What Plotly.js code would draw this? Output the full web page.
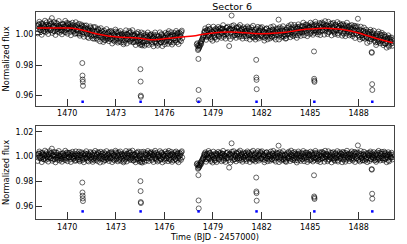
<!DOCTYPE html>
<html>
<head>
<meta charset="utf-8">
<script src="https://cdn.plot.ly/plotly-3.0.1.min.js"></script>
<style>
html,body{margin:0;padding:0;background:#fff;}
#chart{width:407px;height:244px;}
</style>
</head>
<body>
<div id="chart"></div>
<script>
// ---- DATA ----
var timeOrb1 = [
1468.15,1468.2,1468.25,1468.3,1468.35,1468.4,1468.45,1468.5,1468.55,1468.6,
1468.65,1468.7,1468.75,1468.8,1468.85,1468.9,1468.95,1469,1469.05,1469.1,
1469.15,1469.2,1469.25,1469.3,1469.35,1469.4,1469.45,1469.5,1469.55,1469.6,
1469.65,1469.7,1469.75,1469.8,1469.85,1469.9,1469.95,1470,1470.05,1470.1,
1470.15,1470.2,1470.25,1470.3,1470.35,1470.4,1470.45,1470.5,1470.55,1470.6,
1470.65,1470.7,1470.75,1470.8,1470.85,1470.9,1470.95,1471,1471.05,1471.1,
1471.15,1471.2,1471.25,1471.3,1471.35,1471.4,1471.45,1471.5,1471.55,1471.6,
1471.65,1471.7,1471.75,1471.8,1471.85,1471.9,1471.95,1472,1472.05,1472.1,
1472.15,1472.2,1472.25,1472.3,1472.35,1472.4,1472.45,1472.5,1472.55,1472.6,
1472.65,1472.7,1472.75,1472.8,1472.85,1472.9,1472.95,1473,1473.05,1473.1,
1473.15,1473.2,1473.25,1473.3,1473.35,1473.4,1473.45,1473.5,1473.55,1473.6,
1473.65,1473.7,1473.75,1473.8,1473.85,1473.9,1473.95,1474,1474.05,1474.1,
1474.15,1474.2,1474.25,1474.3,1474.35,1474.4,1474.45,1474.5,1474.55,1474.6,
1474.65,1474.7,1474.75,1474.8,1474.85,1474.9,1474.95,1475,1475.05,1475.1,
1475.15,1475.2,1475.25,1475.3,1475.35,1475.4,1475.45,1475.5,1475.55,1475.6,
1475.65,1475.7,1475.75,1475.8,1475.85,1475.9,1475.95,1476,1476.05,1476.1,
1476.15,1476.2,1476.25,1476.3,1476.35,1476.4,1476.45,1476.5,1476.55,1476.6,
1476.65,1476.7,1476.75,1476.8,1476.85,1476.9,1476.95,1477,1477.05,1477.1
];
var rawOrb1 = [
1.0054,1.0034,1.0067,1.0045,1.0027,1.0072,1.0037,1.0060,1.0020,1.0049,
1.0033,1.0063,1.0048,1.0025,1.0057,1.0040,1.0071,1.0031,1.0107,1.0052,
1.0023,1.0058,1.0045,1.0076,1.0034,1.0018,1.0054,1.0047,1.0029,1.0065,
1.0048,1.0025,1.0068,1.0038,1.0052,1.0014,1.0059,1.0034,1.0073,1.0040,
1.0052,1.0017,1.0046,1.0032,1.0062,1.0025,1.0041,1.0057,1.0008,1.0047,
1.0025,1.0046,1.0006,1.0041,1.0021,1.0057,1.0015,1.0034,1.0011,1.0043,
1.0037,1.0009,0.9984,1.0028,1.0021,1.0000,1.0044,1.0013,1.0025,0.9996,
0.9991,1.0020,1.0004,0.9976,1.0017,1.0038,0.9994,0.9985,1.0009,1.0025,
0.9995,0.9972,1.0004,0.9963,1.0011,0.9986,1.0001,0.9977,1.0017,0.9989,
0.9969,0.9993,1.0014,0.9975,0.9962,1.0000,0.9986,1.0019,0.9973,0.9991,
0.9993,0.9955,0.9999,0.9978,1.0004,0.9964,0.9991,0.9947,0.9996,0.9985,
0.9972,1.0004,0.9967,0.9986,1.0011,0.9959,0.9992,0.9974,0.9998,0.9951,
0.9992,0.9973,0.9952,0.9986,1.0003,0.9961,0.9981,0.9965,0.9996,0.9936,
0.9975,0.9950,0.9993,0.9959,0.9981,0.9938,0.9987,0.9970,0.9954,0.9996,
0.9960,0.9987,0.9949,0.9975,0.9999,0.9954,0.9970,0.9941,0.9982,0.9965,
0.9988,0.9960,0.9976,0.9948,0.9997,0.9966,0.9982,0.9951,0.9978,0.9994,
0.9963,0.9981,1.0006,0.9960,0.9987,0.9949,0.9996,0.9969,0.9991,0.9974,
0.9991,0.9961,0.9996,1.0008,0.9971,0.9985,0.9964,1.0004,1.0016,0.9976
];
var flatOrb1 = [
1.0012,0.9992,1.0025,1.0003,0.9985,1.0030,0.9995,1.0018,0.9978,1.0007,
0.9990,1.0020,1.0005,0.9982,1.0014,0.9997,1.0028,0.9988,1.0064,1.0009,
0.9980,1.0015,1.0002,1.0033,0.9991,0.9975,1.0011,1.0004,0.9986,1.0022,
1.0006,0.9983,1.0026,0.9996,1.0010,0.9972,1.0017,0.9992,1.0031,0.9998,
1.0014,0.9979,1.0008,0.9994,1.0024,0.9987,1.0003,1.0019,0.9970,1.0009,
0.9995,1.0016,0.9976,1.0011,0.9991,1.0027,0.9985,1.0004,0.9981,1.0013,
1.0021,0.9993,0.9968,1.0012,1.0005,0.9984,1.0028,0.9997,1.0009,0.9980,
0.9989,1.0018,1.0002,0.9974,1.0015,1.0036,0.9992,0.9983,1.0007,1.0023,
1.0004,0.9981,1.0013,0.9972,1.0020,0.9995,1.0010,0.9986,1.0026,0.9998,
0.9984,1.0008,1.0029,0.9990,0.9977,1.0015,1.0001,1.0034,0.9988,1.0006,
1.0011,0.9973,1.0017,0.9996,1.0022,0.9982,1.0009,0.9965,1.0014,1.0003,
0.9992,1.0024,0.9987,1.0006,1.0031,0.9979,1.0012,0.9994,1.0018,0.9971,
1.0016,0.9997,0.9976,1.0010,1.0027,0.9985,1.0005,0.9989,1.0020,0.9960,
1.0007,0.9982,1.0025,0.9991,1.0013,0.9970,1.0019,1.0002,0.9986,1.0028,
0.9994,1.0021,0.9983,1.0009,1.0033,0.9988,1.0004,0.9975,1.0016,0.9999,
1.0018,0.9990,1.0006,0.9978,1.0027,0.9996,1.0012,0.9981,1.0008,1.0024,
0.9987,1.0005,1.0030,0.9984,1.0011,0.9973,1.0020,0.9993,1.0015,0.9998,
1.0009,0.9979,1.0014,1.0026,0.9989,1.0003,0.9982,1.0022,1.0034,0.9994
];
var timeOrb1b = [
1468.175,1468.225,1468.275,1468.325,1468.375,1468.425,1468.475,1468.525,1468.575,1468.625,
1468.675,1468.725,1468.775,1468.825,1468.875,1468.925,1468.975,1469.025,1469.075,1469.125,
1469.175,1469.225,1469.275,1469.325,1469.375,1469.425,1469.475,1469.525,1469.575,1469.625,
1469.675,1469.725,1469.775,1469.825,1469.875,1469.925,1469.975,1470.025,1470.075,1470.125,
1470.175,1470.225,1470.275,1470.325,1470.375,1470.425,1470.475,1470.525,1470.575,1470.625,
1470.675,1470.725,1470.775,1470.825,1470.875,1470.925,1470.975,1471.025,1471.075,1471.125,
1471.175,1471.225,1471.275,1471.325,1471.375,1471.425,1471.475,1471.525,1471.575,1471.625,
1471.675,1471.725,1471.775,1471.825,1471.875,1471.925,1471.975,1472.025,1472.075,1472.125,
1472.175,1472.225,1472.275,1472.325,1472.375,1472.425,1472.475,1472.525,1472.575,1472.625,
1472.675,1472.725,1472.775,1472.825,1472.875,1472.925,1472.975,1473.025,1473.075,1473.125,
1473.175,1473.225,1473.275,1473.325,1473.375,1473.425,1473.475,1473.525,1473.575,1473.625,
1473.675,1473.725,1473.775,1473.825,1473.875,1473.925,1473.975,1474.025,1474.075,1474.125,
1474.175,1474.225,1474.275,1474.325,1474.375,1474.425,1474.475,1474.525,1474.575,1474.625,
1474.675,1474.725,1474.775,1474.825,1474.875,1474.925,1474.975,1475.025,1475.075,1475.125,
1475.175,1475.225,1475.275,1475.325,1475.375,1475.425,1475.475,1475.525,1475.575,1475.625,
1475.675,1475.725,1475.775,1475.825,1475.875,1475.925,1475.975,1476.025,1476.075,1476.125,
1476.175,1476.225,1476.275,1476.325,1476.375,1476.425,1476.475,1476.525,1476.575,1476.625,
1476.675,1476.725,1476.775,1476.825,1476.875,1476.925,1476.975,1477.025,1477.075
];
var rawOrb1b = [
1.0007,1.0064,1.0083,1.0030,1.0050,0.9998,1.0072,1.0022,1.0057,1.0090,
1.0016,1.0079,1.0038,1.0003,1.0062,1.0087,1.0027,1.0070,1.0010,1.0054,
1.0081,1.0021,0.9997,1.0057,1.0072,1.0035,1.0088,1.0012,1.0046,1.0025,
1.0001,1.0068,1.0051,1.0017,1.0089,1.0029,1.0075,1.0005,1.0062,1.0036,
1.0069,0.9995,1.0055,1.0077,1.0019,1.0043,1.0004,1.0080,1.0028,1.0062,
1.0006,1.0070,0.9992,1.0043,1.0065,1.0001,1.0051,0.9985,1.0058,1.0021,
1.0059,1.0001,1.0040,0.9977,1.0026,1.0053,0.9990,1.0034,0.9974,1.0048,
0.9972,1.0048,0.9991,1.0023,0.9966,1.0031,1.0008,0.9955,1.0041,0.9985,
1.0016,0.9951,1.0025,0.9984,0.9963,1.0035,0.9972,1.0007,0.9956,1.0021,
0.9973,1.0023,0.9941,1.0008,0.9994,0.9954,1.0032,0.9964,1.0012,0.9947,
1.0015,0.9966,1.0023,0.9948,1.0000,0.9986,0.9936,1.0008,0.9959,1.0027,
0.9941,0.9999,0.9972,1.0022,0.9953,1.0015,0.9966,1.0028,0.9948,0.9990,
0.9996,0.9931,1.0007,0.9958,1.0016,0.9943,0.9988,0.9951,1.0013,0.9928,
0.9946,1.0007,0.9927,0.9984,0.9998,0.9956,1.0013,0.9932,0.9976,0.9995,
1.0002,0.9938,0.9980,0.9923,0.9988,1.0013,0.9949,0.9995,0.9927,0.9971,
0.9939,1.0014,0.9950,1.0003,0.9924,0.9988,0.9977,0.9936,1.0011,0.9955,
1.0003,0.9939,1.0022,0.9952,0.9987,1.0014,0.9934,0.9996,0.9947,1.0010,
0.9964,1.0023,0.9949,1.0007,0.9937,1.0012,0.9991,0.9956,1.0025
];
var flatOrb1b = [
0.9965,1.0022,1.0041,0.9988,1.0008,0.9956,1.0030,0.9980,1.0015,1.0048,
0.9973,1.0036,0.9995,0.9960,1.0019,1.0044,0.9984,1.0027,0.9967,1.0011,
1.0038,0.9978,0.9954,1.0014,1.0029,0.9992,1.0045,0.9969,1.0003,0.9982,
0.9959,1.0026,1.0009,0.9975,1.0047,0.9987,1.0033,0.9963,1.0020,0.9994,
1.0031,0.9957,1.0017,1.0039,0.9981,1.0005,0.9966,1.0042,0.9990,1.0024,
0.9976,1.0040,0.9962,1.0013,1.0035,0.9971,1.0021,0.9955,1.0028,0.9991,
1.0043,0.9985,1.0024,0.9961,1.0010,1.0037,0.9974,1.0018,0.9958,1.0032,
0.9970,1.0046,0.9989,1.0021,0.9964,1.0029,1.0006,0.9953,1.0039,0.9983,
1.0025,0.9960,1.0034,0.9993,0.9972,1.0044,0.9981,1.0016,0.9965,1.0030,
0.9988,1.0038,0.9956,1.0023,1.0009,0.9969,1.0047,0.9979,1.0027,0.9962,
1.0033,0.9984,1.0041,0.9966,1.0018,1.0004,0.9954,1.0026,0.9977,1.0045,
0.9961,1.0019,0.9992,1.0042,0.9973,1.0035,0.9986,1.0048,0.9968,1.0010,
1.0020,0.9955,1.0031,0.9982,1.0040,0.9967,1.0012,0.9975,1.0037,0.9952,
0.9978,1.0039,0.9959,1.0016,1.0030,0.9988,1.0045,0.9964,1.0008,1.0027,
1.0036,0.9972,1.0014,0.9957,1.0022,1.0047,0.9983,1.0029,0.9961,1.0005,
0.9969,1.0044,0.9980,1.0033,0.9954,1.0018,1.0007,0.9966,1.0041,0.9985,
1.0027,0.9963,1.0046,0.9976,1.0011,1.0038,0.9958,1.0020,0.9971,1.0034,
0.9982,1.0041,0.9967,1.0025,0.9955,1.0030,1.0009,0.9974,1.0043
];
var timeOrb2 = [
1478,1478.05,1478.1,1478.15,1478.2,1478.25,1478.3,1478.35,1478.4,1478.45,
1478.5,1478.55,1478.6,1478.65,1478.7,1478.75,1478.8,1478.85,1478.9,1478.95,
1479,1479.05,1479.1,1479.15,1479.2,1479.25,1479.3,1479.35,1479.4,1479.45,
1479.5,1479.55,1479.6,1479.65,1479.7,1479.75,1479.8,1479.85,1479.9,1479.95,
1480,1480.05,1480.1,1480.15,1480.2,1480.25,1480.3,1480.35,1480.4,1480.45,
1480.5,1480.55,1480.6,1480.65,1480.7,1480.75,1480.8,1480.85,1480.9,1480.95,
1481,1481.05,1481.1,1481.15,1481.2,1481.25,1481.3,1481.35,1481.4,1481.45,
1481.5,1481.55,1481.6,1481.65,1481.7,1481.75,1481.8,1481.85,1481.9,1481.95,
1482,1482.05,1482.1,1482.15,1482.2,1482.25,1482.3,1482.35,1482.4,1482.45,
1482.5,1482.55,1482.6,1482.65,1482.7,1482.75,1482.8,1482.85,1482.9,1482.95,
1483,1483.05,1483.1,1483.15,1483.2,1483.25,1483.3,1483.35,1483.4,1483.45,
1483.5,1483.55,1483.6,1483.65,1483.7,1483.75,1483.8,1483.85,1483.9,1483.95,
1484,1484.05,1484.1,1484.15,1484.2,1484.25,1484.3,1484.35,1484.4,1484.45,
1484.5,1484.55,1484.6,1484.65,1484.7,1484.75,1484.8,1484.85,1484.9,1484.95,
1485,1485.05,1485.1,1485.15,1485.2,1485.25,1485.3,1485.35,1485.4,1485.45,
1485.5,1485.55,1485.6,1485.65,1485.7,1485.75,1485.8,1485.85,1485.9,1485.95,
1486,1486.05,1486.1,1486.15,1486.2,1486.25,1486.3,1486.35,1486.4,1486.45,
1486.5,1486.55,1486.6,1486.65,1486.7,1486.75,1486.8,1486.85,1486.9,1486.95,
1487,1487.05,1487.1,1487.15,1487.2,1487.25,1487.3,1487.35,1487.4,1487.45,
1487.5,1487.55,1487.6,1487.65,1487.7,1487.75,1487.8,1487.85,1487.9,1487.95,
1488,1488.05,1488.1,1488.15,1488.2,1488.25,1488.3,1488.35,1488.4,1488.45,
1488.5,1488.55,1488.6,1488.65,1488.7,1488.75,1488.8,1488.85,1488.9,1488.95,
1489,1489.05,1489.1,1489.15,1489.2,1489.25,1489.3,1489.35,1489.4,1489.45,
1489.5,1489.55,1489.6,1489.65,1489.7,1489.75,1489.8,1489.85,1489.9,1489.95,
1490,1490.05,1490.1
];
var rawOrb2 = [
0.9935,0.9925,0.9905,0.9912,0.9928,0.9944,0.9958,0.9972,0.9985,1.0010,
1.0019,0.9986,1.0013,1.0031,0.9997,0.9990,1.0036,1.0008,0.9982,1.0017,
1.0007,1.0028,0.9983,1.0020,1.0032,0.9999,1.0016,0.9992,1.0037,1.0004,
1.0030,1.0009,1.0037,0.9985,1.0025,1.0018,1.0000,1.0043,1.0007,1.0027,
0.9924,1.0035,1.0010,1.0124,1.0040,1.0011,1.0030,0.9995,1.0024,1.0046,
0.9997,1.0020,1.0041,1.0001,1.0024,0.9988,1.0032,1.0015,1.0005,1.0037,
1.0015,0.9988,1.0024,1.0007,1.0042,0.9994,1.0019,0.9999,1.0030,0.9981,
1.0018,0.9999,1.0031,0.9988,1.0009,0.9982,1.0022,1.0013,0.9993,1.0035,
0.9995,1.0026,1.0003,1.0019,0.9978,1.0013,1.0038,0.9990,1.0009,0.9985,
1.0025,1.0001,1.0017,0.9984,1.0033,1.0009,0.9993,1.0022,0.9999,1.0029,
1.0017,1.0097,0.9992,1.0023,1.0007,1.0039,0.9990,1.0020,0.9999,1.0028,
0.9992,1.0031,1.0020,1.0008,1.0047,1.0001,1.0037,1.0014,1.0028,0.9989,
1.0033,1.0011,1.0049,1.0019,1.0041,0.9994,1.0037,1.0052,1.0015,1.0029,
1.0014,1.0054,1.0033,1.0020,1.0063,1.0039,1.0008,1.0047,1.0027,1.0051,
1.0047,1.0010,1.0054,1.0040,1.0024,1.0062,1.0029,1.0067,1.0017,1.0043,
1.0031,1.0054,1.0018,1.0066,1.0045,1.0025,1.0072,1.0036,1.0051,1.0021,
1.0061,1.0037,1.0049,1.0014,1.0056,1.0042,1.0028,1.0068,1.0023,1.0047,
1.0023,1.0061,1.0030,1.0049,1.0008,1.0055,1.0041,1.0027,1.0060,1.0036,
1.0043,1.0010,1.0060,1.0022,1.0036,1.0006,1.0045,1.0031,1.0014,1.0057,
1.0015,1.0037,1.0009,1.0045,1.0001,1.0029,1.0054,1.0006,1.0023,1.0103,
1.0018,0.9983,1.0012,1.0026,0.9997,0.9976,1.0022,1.0009,0.9989,1.0032,
0.9983,1.0008,0.9975,0.9997,1.0017,0.9968,1.0000,0.9987,1.0004,0.9977,
0.9982,0.9948,0.9993,0.9965,0.9987,0.9956,1.0003,0.9977,0.9962,0.9996,
0.9944,0.9966,0.9985,0.9939,0.9969,0.9955,0.9977,0.9931,0.9972,0.9961,
0.9940,0.9965,0.9944
];
var flatOrb2 = [
0.9939,0.9929,0.9909,0.9916,0.9932,0.9948,0.9962,0.9976,0.9989,1.0013,
1.0013,0.9980,1.0007,1.0025,0.9991,0.9984,1.0030,1.0002,0.9976,1.0011,
0.9996,1.0017,0.9972,1.0009,1.0021,0.9988,1.0005,0.9981,1.0026,0.9993,
1.0015,0.9994,1.0022,0.9970,1.0010,1.0003,0.9985,1.0028,0.9992,1.0012,
0.9912,1.0019,0.9994,1.0107,1.0024,0.9995,1.0014,0.9979,1.0008,1.0030,
0.9983,1.0006,1.0027,0.9987,1.0010,0.9974,1.0018,1.0001,0.9991,1.0023,
1.0005,0.9978,1.0014,0.9997,1.0032,0.9984,1.0009,0.9989,1.0020,0.9971,
1.0012,0.9993,1.0025,0.9982,1.0003,0.9976,1.0016,1.0007,0.9987,1.0029,
0.9990,1.0021,0.9998,1.0014,0.9973,1.0008,1.0033,0.9985,1.0004,0.9980,
1.0018,0.9994,1.0010,0.9977,1.0026,1.0002,0.9986,1.0015,0.9992,1.0022,
1.0006,1.0088,0.9981,1.0012,0.9996,1.0028,0.9979,1.0009,0.9988,1.0017,
0.9975,1.0014,1.0003,0.9991,1.0030,0.9984,1.0020,0.9997,1.0011,0.9972,
1.0008,0.9986,1.0024,0.9994,1.0016,0.9969,1.0012,1.0027,0.9990,1.0004,
0.9982,1.0022,1.0001,0.9988,1.0031,1.0007,0.9976,1.0015,0.9995,1.0019,
1.0010,0.9973,1.0017,1.0003,0.9987,1.0025,0.9992,1.0030,0.9980,1.0006,
0.9991,1.0014,0.9978,1.0026,1.0005,0.9985,1.0032,0.9996,1.0011,0.9981,
1.0021,0.9997,1.0009,0.9974,1.0016,1.0002,0.9988,1.0028,0.9983,1.0007,
0.9986,1.0024,0.9993,1.0012,0.9971,1.0018,1.0004,0.9990,1.0023,0.9999,
1.0013,0.9980,1.0030,0.9992,1.0006,0.9976,1.0015,1.0001,0.9984,1.0027,
0.9995,1.0017,0.9989,1.0025,0.9981,1.0009,1.0034,0.9986,1.0003,1.0090,
1.0012,0.9977,1.0006,1.0020,0.9991,0.9970,1.0016,1.0003,0.9983,1.0026,
0.9994,1.0019,0.9986,1.0008,1.0028,0.9979,1.0011,0.9998,1.0015,0.9988,
1.0009,0.9975,1.0020,0.9992,1.0014,0.9983,1.0030,1.0004,0.9989,1.0023,
0.9985,1.0007,1.0026,0.9980,1.0010,0.9996,1.0018,0.9972,1.0013,1.0002,
0.9991,1.0016,0.9995
];
var timeOrb2b = [
1478.025,1478.075,1478.125,1478.175,1478.225,1478.275,1478.325,1478.375,1478.425,1478.475,
1478.525,1478.575,1478.625,1478.675,1478.725,1478.775,1478.825,1478.875,1478.925,1478.975,
1479.025,1479.075,1479.125,1479.175,1479.225,1479.275,1479.325,1479.375,1479.425,1479.475,
1479.525,1479.575,1479.625,1479.675,1479.725,1479.775,1479.825,1479.875,1479.925,1479.975,
1480.025,1480.075,1480.125,1480.175,1480.225,1480.275,1480.325,1480.375,1480.425,1480.475,
1480.525,1480.575,1480.625,1480.675,1480.725,1480.775,1480.825,1480.875,1480.925,1480.975,
1481.025,1481.075,1481.125,1481.175,1481.225,1481.275,1481.325,1481.375,1481.425,1481.475,
1481.525,1481.575,1481.625,1481.675,1481.725,1481.775,1481.825,1481.875,1481.925,1481.975,
1482.025,1482.075,1482.125,1482.175,1482.225,1482.275,1482.325,1482.375,1482.425,1482.475,
1482.525,1482.575,1482.625,1482.675,1482.725,1482.775,1482.825,1482.875,1482.925,1482.975,
1483.025,1483.075,1483.125,1483.175,1483.225,1483.275,1483.325,1483.375,1483.425,1483.475,
1483.525,1483.575,1483.625,1483.675,1483.725,1483.775,1483.825,1483.875,1483.925,1483.975,
1484.025,1484.075,1484.125,1484.175,1484.225,1484.275,1484.325,1484.375,1484.425,1484.475,
1484.525,1484.575,1484.625,1484.675,1484.725,1484.775,1484.825,1484.875,1484.925,1484.975,
1485.025,1485.075,1485.125,1485.175,1485.225,1485.275,1485.325,1485.375,1485.425,1485.475,
1485.525,1485.575,1485.625,1485.675,1485.725,1485.775,1485.825,1485.875,1485.925,1485.975,
1486.025,1486.075,1486.125,1486.175,1486.225,1486.275,1486.325,1486.375,1486.425,1486.475,
1486.525,1486.575,1486.625,1486.675,1486.725,1486.775,1486.825,1486.875,1486.925,1486.975,
1487.025,1487.075,1487.125,1487.175,1487.225,1487.275,1487.325,1487.375,1487.425,1487.475,
1487.525,1487.575,1487.625,1487.675,1487.725,1487.775,1487.825,1487.875,1487.925,1487.975,
1488.025,1488.075,1488.125,1488.175,1488.225,1488.275,1488.325,1488.375,1488.425,1488.475,
1488.525,1488.575,1488.625,1488.675,1488.725,1488.775,1488.825,1488.875,1488.925,1488.975,
1489.025,1489.075,1489.125,1489.175,1489.225,1489.275,1489.325,1489.375,1489.425,1489.475,
1489.525,1489.575,1489.625,1489.675,1489.725,1489.775,1489.825,1489.875,1489.925,1489.975,
1490.025,1490.075
];
var rawOrb2b = [
0.9942,0.9898,0.9930,0.9921,0.9950,0.9938,0.9966,0.9981,0.9994,1.0021,
1.0040,0.9965,1.0025,0.9983,1.0051,0.9997,1.0034,0.9970,1.0018,0.9959,
1.0051,0.9997,0.9978,1.0038,0.9967,1.0027,1.0049,0.9986,1.0018,1.0042,
0.9978,1.0038,1.0061,0.9997,1.0019,0.9973,1.0044,1.0004,1.0051,0.9987,
1.0037,0.9970,1.0029,1.0055,0.9986,1.0060,0.9996,1.0021,0.9978,1.0042,
1.0001,1.0051,0.9985,1.0062,1.0007,1.0036,0.9973,1.0047,0.9990,1.0023,
1.0040,0.9975,1.0052,0.9994,1.0035,0.9967,1.0021,1.0046,0.9989,1.0057,
0.9980,1.0020,0.9967,1.0037,0.9998,1.0050,0.9974,1.0026,1.0044,0.9989,
1.0048,0.9982,1.0013,0.9960,1.0032,0.9993,1.0040,0.9968,1.0023,1.0006,
0.9974,1.0048,0.9988,1.0031,1.0053,0.9979,1.0017,0.9967,1.0039,1.0002,
1.0039,0.9967,1.0047,1.0000,0.9980,1.0028,1.0054,0.9987,1.0020,0.9973,
0.9975,1.0043,1.0002,1.0056,1.0020,0.9982,1.0065,0.9997,1.0047,1.0008,
1.0062,0.9995,1.0037,0.9978,1.0049,1.0066,1.0009,1.0031,0.9991,1.0054,
1.0011,1.0077,0.9995,1.0050,1.0026,1.0065,0.9989,1.0059,1.0043,1.0003,
1.0077,1.0019,1.0067,0.9998,1.0052,1.0010,1.0083,1.0027,1.0059,1.0001,
1.0015,1.0074,0.9996,1.0049,1.0078,1.0026,1.0063,0.9999,1.0087,1.0042,
1.0059,1.0003,1.0083,1.0018,1.0035,1.0071,0.9994,1.0054,1.0076,1.0013,
1.0003,1.0065,1.0025,1.0081,0.9997,1.0044,1.0072,1.0018,1.0062,0.9992,
1.0068,1.0004,1.0045,0.9989,1.0059,1.0077,1.0022,1.0051,0.9994,1.0042,
1.0001,1.0062,0.9989,1.0026,1.0057,0.9977,1.0044,1.0006,1.0053,0.9992,
1.0032,0.9967,1.0051,0.9995,0.9979,1.0024,1.0045,0.9973,1.0014,0.9984,
0.9945,1.0019,1.0002,0.9954,1.0030,0.9971,1.0015,0.9982,1.0025,0.9959,
0.9990,0.9931,1.0006,0.9949,1.0019,0.9964,0.9942,0.9995,1.0011,0.9958,
0.9930,0.9999,0.9942,0.9987,0.9914,0.9970,0.9994,0.9921,0.9979,0.9953,
0.9980,0.9926
];
var flatOrb2b = [
0.9946,0.9902,0.9934,0.9925,0.9954,0.9942,0.9970,0.9985,0.9998,1.0023,
1.0034,0.9959,1.0019,0.9977,1.0045,0.9991,1.0028,0.9964,1.0012,0.9953,
1.0040,0.9986,0.9967,1.0027,0.9956,1.0016,1.0038,0.9975,1.0007,1.0031,
0.9963,1.0023,1.0046,0.9982,1.0004,0.9958,1.0029,0.9989,1.0036,0.9972,
1.0021,0.9954,1.0013,1.0039,0.9970,1.0044,0.9980,1.0005,0.9962,1.0026,
0.9987,1.0037,0.9971,1.0048,0.9993,1.0022,0.9959,1.0033,0.9976,1.0009,
1.0030,0.9965,1.0042,0.9984,1.0025,0.9957,1.0011,1.0036,0.9979,1.0047,
0.9974,1.0014,0.9961,1.0031,0.9992,1.0044,0.9968,1.0020,1.0038,0.9983,
1.0043,0.9977,1.0008,0.9955,1.0027,0.9988,1.0035,0.9963,1.0018,1.0001,
0.9967,1.0041,0.9981,1.0024,1.0046,0.9972,1.0010,0.9960,1.0032,0.9995,
1.0028,0.9956,1.0036,0.9989,0.9969,1.0017,1.0043,0.9976,1.0009,0.9962,
0.9958,1.0026,0.9985,1.0039,1.0003,0.9965,1.0048,0.9980,1.0030,0.9991,
1.0037,0.9970,1.0012,0.9953,1.0024,1.0041,0.9984,1.0006,0.9966,1.0029,
0.9979,1.0045,0.9963,1.0018,0.9994,1.0033,0.9957,1.0027,1.0011,0.9971,
1.0040,0.9982,1.0030,0.9961,1.0015,0.9973,1.0046,0.9990,1.0022,0.9964,
0.9975,1.0034,0.9956,1.0009,1.0038,0.9986,1.0023,0.9959,1.0047,1.0002,
1.0019,0.9963,1.0043,0.9978,0.9995,1.0031,0.9954,1.0014,1.0036,0.9973,
0.9966,1.0028,0.9988,1.0044,0.9960,1.0007,1.0035,0.9981,1.0025,0.9955,
1.0038,0.9974,1.0015,0.9959,1.0029,1.0047,0.9992,1.0021,0.9964,1.0012,
0.9981,1.0042,0.9969,1.0006,1.0037,0.9957,1.0024,0.9986,1.0033,0.9972,
1.0026,0.9961,1.0045,0.9989,0.9973,1.0018,1.0039,0.9967,1.0008,0.9978,
0.9956,1.0030,1.0013,0.9965,1.0041,0.9982,1.0026,0.9993,1.0036,0.9970,
1.0017,0.9958,1.0033,0.9976,1.0046,0.9991,0.9969,1.0022,1.0038,0.9985,
0.9971,1.0040,0.9983,1.0028,0.9955,1.0011,1.0035,0.9962,1.0020,0.9994,
1.0031,0.9977
];
// in-transit points
var transitPtTime = [
1470.93,1470.94,1470.95,1470.96,1470.97,
1474.51,1474.52,1474.53,1474.54,1474.55,
1478.10,1478.11,1478.12,
1481.67,1481.68,1481.69,1481.70,
1485.24,1485.25,1485.26,1485.27,
1488.80,1488.81,1488.83,1488.84
];
var transitPtRaw = [
0.9813,0.9731,0.9705,0.9690,0.9664,
0.9932,0.9773,0.9692,0.9600,0.9592,
0.9840,0.9637,0.9570,
0.9834,0.9718,0.9703,0.9642,
0.9889,0.9710,0.9698,0.9690,
0.9885,0.9880,0.9675,0.9637
];
var transitPtFlat = [
0.9792,0.9712,0.9686,0.9664,0.9643,
0.9957,0.9803,0.9723,0.9635,0.9627,
0.9851,0.9648,0.9584,
0.9832,0.9720,0.9707,0.9646,
0.9850,0.9680,0.9670,0.9660,
0.9900,0.9895,0.9702,0.9662
];
// predicted transit mid-times (blue marks)
var transitMid = [1470.95,1474.53,1478.11,1481.69,1485.26,1488.84];
var transitMarkY = [0.956,0.956,0.956,0.956,0.956,0.956];
// smooth trend (red line)
var trendTime = [1468.15,1468.6,1469.1,1469.6,1470.1,1470.6,1471.1,1471.6,1472.1,1472.6,1473.1,1473.6,1474.1,1474.6,1475.1,1475.6,1476.1,1476.6,1477.1,
1478.0,1478.5,1479.0,1479.5,1480.0,1480.5,1481.0,1481.5,1482.0,1482.5,1483.0,1483.5,1484.0,1484.5,1485.0,1485.5,1486.0,1486.5,1487.0,1487.5,1488.0,1488.5,1489.0,1489.5,1490.1];
var trendFlux = [1.0042,1.0042,1.0043,1.0043,1.0042,1.0036,1.0025,1.0010,0.9998,0.9989,0.9984,0.9981,0.9979,0.9974,0.9966,0.9967,0.9973,0.9978,0.9984,
0.9994,1.0003,1.0010,1.0015,1.0016,1.0015,1.0011,1.0006,1.0005,1.0006,1.0010,1.0015,1.0023,1.0031,1.0036,1.0039,1.0040,1.0038,1.0032,1.0023,1.0010,0.9993,0.9977,0.9962,0.9946];

var xTicks = [1470,1473,1476,1479,1482,1485,1488];
var yTicksTop = [0.96,0.98,1.00];
var yTicksBot = [0.96,0.98,1.00,1.02];

// ---- PLOT ----
var FONT = 'DejaVu Sans, sans-serif';
var circ = {symbol:'circle-open', size:5, color:'rgba(0,0,0,0.85)', line:{width:0.7}};
var blue = {symbol:'square', size:2.5, color:'#0000ff', line:{width:0}};

var allT = timeOrb1.concat(timeOrb1b, timeOrb2, timeOrb2b, transitPtTime);
var allRaw = rawOrb1.concat(rawOrb1b, rawOrb2, rawOrb2b, transitPtRaw);
var allFlat = flatOrb1.concat(flatOrb1b, flatOrb2, flatOrb2b, transitPtFlat);

var traces = [
 {x: allT, y: allRaw, mode:'markers', marker:circ, xaxis:'x', yaxis:'y', hoverinfo:'skip'},
 {x: trendTime, y: trendFlux, mode:'lines', line:{color:'#ff0000', width:1.5, shape:'spline'},
  xaxis:'x', yaxis:'y', hoverinfo:'skip'},
 {x: transitMid, y: transitMarkY, mode:'markers', marker:blue, xaxis:'x', yaxis:'y', hoverinfo:'skip'},
 {x: allT, y: allFlat, mode:'markers', marker:circ, xaxis:'x2', yaxis:'y2', hoverinfo:'skip'},
 {x: transitMid, y: transitMarkY, mode:'markers', marker:blue, xaxis:'x2', yaxis:'y2', hoverinfo:'skip'}
];

var axBase = {
  showgrid:false, zeroline:false, showline:true, mirror:true,
  linecolor:'#444', linewidth:1, ticks:'inside', tickcolor:'#333', tickwidth:1,
  tickfont:{family:FONT, size:8, color:'#000'}
};
function ax(extra){ var o = JSON.parse(JSON.stringify(axBase)); for (var k in extra) o[k]=extra[k]; return o; }

var layout = {
  width:407, height:244,
  margin:{l:36, r:13, t:12, b:25, pad:0},
  paper_bgcolor:'#fff', plot_bgcolor:'#fff',
  showlegend:false,
  font:{family:FONT, size:8, color:'#000'},
  title:{text:'Sector 6', font:{family:FONT, size:9.5, color:'#000'},
         x:223/407, xanchor:'center', xref:'paper', yref:'container', y:1-6.5/244, yanchor:'middle'},
  xaxis: ax({domain:[0,1], anchor:'y', range:[1468.07,1490.18], tickvals:xTicks, ticktext:xTicks.map(String), ticklen:7}),
  yaxis: ax({domain:[0.5473,1], anchor:'x', range:[0.9534,1.0147], tickvals:yTicksTop, ticktext:['0.96','0.98','1.00'], ticklen:6,
         title:{text:'Normalized flux', font:{family:FONT, size:8.3, color:'#000'}, standoff:4}}),
  xaxis2: ax({domain:[0,1], anchor:'y2', range:[1468.07,1490.18], tickvals:xTicks, ticktext:xTicks.map(String), ticklen:7,
         title:{text:'Time (BJD - 2457000)', font:{family:FONT, size:8.2, color:'#000'}, standoff:2}}),
  yaxis2: ax({domain:[0,0.4493], anchor:'x2', range:[0.9499,1.0246], tickvals:yTicksBot, ticktext:['0.96','0.98','1.00','1.02'], ticklen:6,
         title:{text:'Normalized flux', font:{family:FONT, size:8.3, color:'#000'}, standoff:4}})
};

Plotly.newPlot('chart', traces, layout, {staticPlot:true, displayModeBar:false});
</script>
</body>
</html>
